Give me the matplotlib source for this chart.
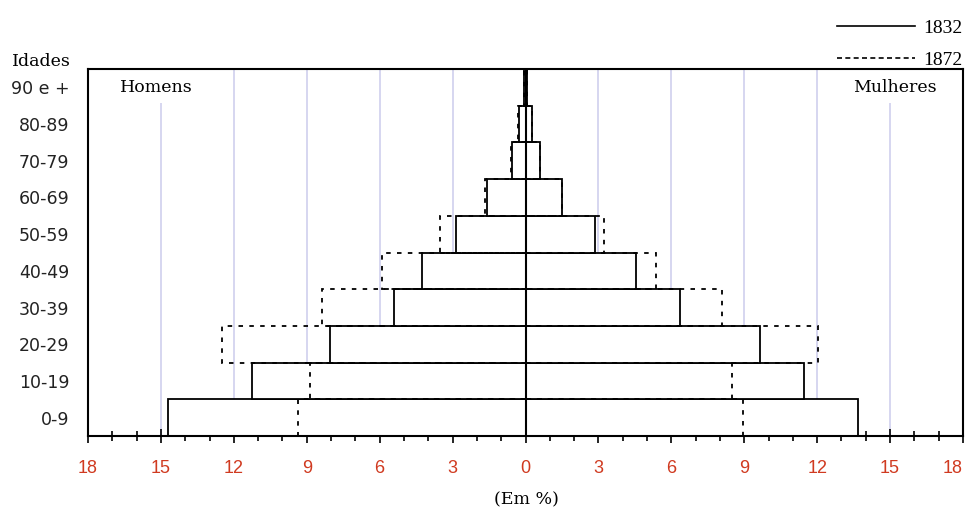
import numpy as np
import matplotlib
matplotlib.use('Agg')
import matplotlib.pyplot as plt
from matplotlib.lines import Line2D

# Age groups (bottom to top)
idades = ['0-9', '10-19', '20-29', '30-39', '40-49', '50-59',
          '60-69', '70-79', '80-89', '90 e +']

# Percentages
homens_1832 = [14.70, 11.25, 8.06, 5.41, 4.26, 2.88, 1.59, 0.56, 0.27, 0.06]
mulheres_1832 = [13.69, 11.47, 9.66, 6.36, 4.55, 2.84, 1.51, 0.60, 0.26, 0.06]
homens_1872 = [9.36, 8.88, 12.48, 8.38, 5.90, 3.53, 1.68, 0.60, 0.30, 0.05]
mulheres_1872 = [8.93, 8.48, 12.04, 8.07, 5.37, 3.22, 1.50, 0.58, 0.25, 0.05]

x_ticks = [-18, -15, -12, -9, -6, -3, 0, 3, 6, 9, 12, 15, 18]

serif = ['DejaVu Serif']
plt.rcParams['font.family'] = serif

fig = plt.figure(figsize=(9.71, 5.21), dpi=100)
ax = fig.add_axes([88/971, 1-436/521, 875/971, 367/521])

y = np.arange(len(idades))
dash = (0, (2.5, 3.5))

# grid lines
for v in [3, 6, 9, 12]:
    ax.vlines([-v, v], 0, 10, color='#cfcfee', lw=1.2, zorder=0)
ax.vlines([-15, 15], 0, 9.07, color='#cfcfee', lw=1.2, zorder=0)

# 1832 (solid)
ax.barh(y, [-v for v in homens_1832], height=1.0, align='edge', left=0,
        facecolor='white', edgecolor='black', lw=1.3, zorder=2)
ax.barh(y, mulheres_1832, height=1.0, align='edge', left=0,
        facecolor='white', edgecolor='black', lw=1.3, zorder=2)

# 1872 (dashed)
ax.barh(y, [-v for v in homens_1872], height=1.0, align='edge', left=0,
        fill=False, edgecolor='black', lw=1.3, linestyle=dash, zorder=3)
ax.barh(y, mulheres_1872, height=1.0, align='edge', left=0,
        fill=False, edgecolor='black', lw=1.3, linestyle=dash, zorder=3)

ax.axvline(0, color='black', lw=1.5, zorder=4)

ax.set_xlim(-18, 18)
ax.set_ylim(0, 10)

ax.set_xticks(x_ticks)
ax.set_xticklabels([str(abs(v)) for v in x_ticks], color='#d03a20', fontsize=13,
                   family=['Liberation Sans'])
ax.get_xticklabels()[-1].set_horizontalalignment('right')
ax.set_xticks(np.arange(-18, 19, 1), minor=True)
ax.tick_params(axis='x', which='major', direction='inout', length=10, width=1.2, pad=12)
ax.tick_params(axis='x', which='minor', direction='inout', length=7, width=1.2)

ax.set_yticks(y + 0.5)
ax.set_yticklabels(idades, fontsize=12.5, family=['DejaVu Sans'], color='#222222')
ax.tick_params(axis='y', length=0, pad=13.5)

for s in ax.spines.values():
    s.set_linewidth(1.5)

ax.text(-15.2, 9.5, 'Homens', fontsize=12.5, ha='center', va='center')
ax.text(15.2, 9.5, 'Mulheres', fontsize=12.5, ha='center', va='center')

fig.text(12/971, 1-61/521, 'Idades', fontsize=12.5, ha='left', va='center')
fig.text(526/971, 1-500/521, '(Em %)', fontsize=12.5, ha='center', va='center')

handles = [Line2D([], [], color='black', lw=1.2),
           Line2D([], [], color='black', lw=1.2, linestyle=(0, (3, 2)))]
ax.legend(handles, ['1832', '1872'], loc='upper right',
          bbox_to_anchor=(962/971, 1-19/521), bbox_transform=fig.transFigure,
          frameon=False, handlelength=4.0, handletextpad=0.4,
          labelspacing=0.75, borderpad=0, borderaxespad=0,
          prop={'family': ['Liberation Serif'], 'size': 14})

fig.savefig('out.png', dpi=100)
